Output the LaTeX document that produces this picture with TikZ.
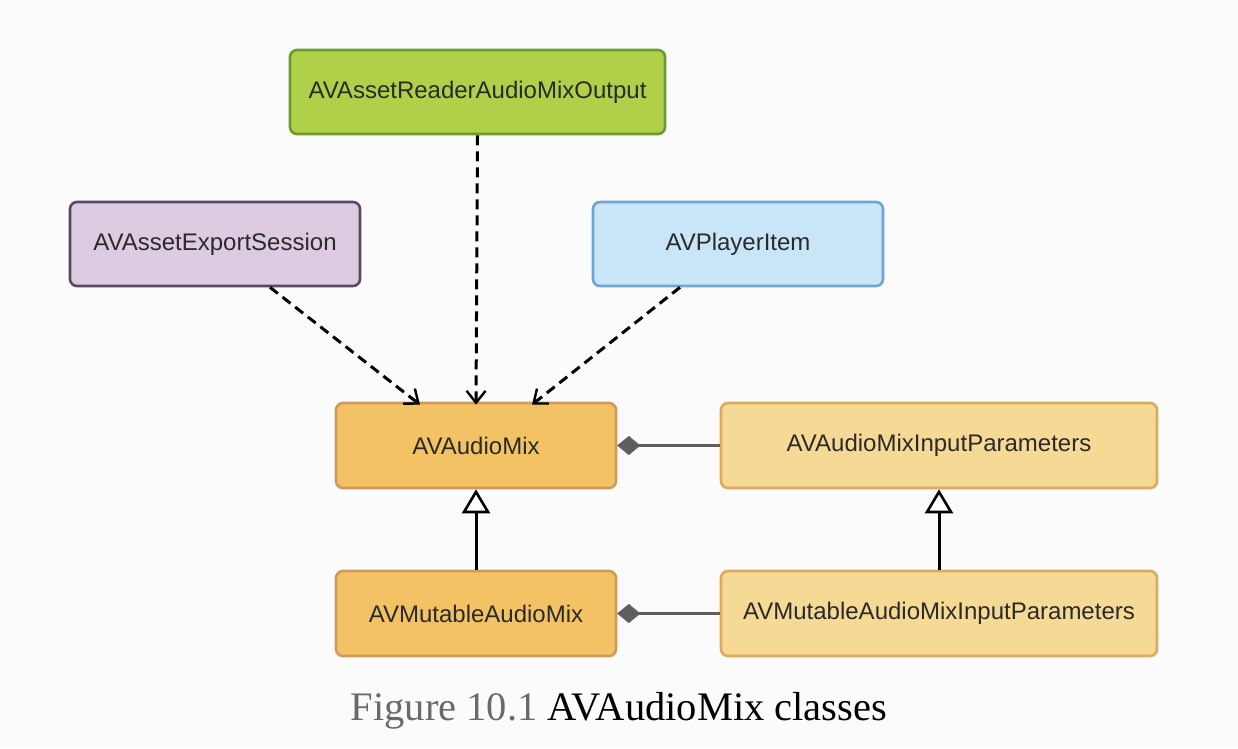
\documentclass[tikz,border=0pt]{standalone}
\usepackage{fontspec}
\setmainfont{Liberation Sans}
\newfontfamily\capfont{Liberation Serif}
\usetikzlibrary{arrows.meta,calc}
\definecolor{bg}{HTML}{FBFBFB}
\definecolor{txt}{HTML}{2A2A2A}
\definecolor{greenfill}{HTML}{B1D04A}
\definecolor{greenline}{HTML}{6C9A2C}
\definecolor{purplefill}{HTML}{DCCBE1}
\definecolor{purpleline}{HTML}{5B4762}
\definecolor{bluefill}{HTML}{C9E5F8}
\definecolor{blueline}{HTML}{6EA5D6}
\definecolor{orangefill}{HTML}{F3C264}
\definecolor{orangeline}{HTML}{CF9A5C}
\definecolor{lightfill}{HTML}{F6D994}
\definecolor{lightline}{HTML}{DAAA62}
\definecolor{diamondgray}{HTML}{5E5E5E}
\definecolor{capgray}{HTML}{6A6A6A}
\tikzset{
  classbox/.style={draw, line width=2.6pt, rounded corners=7pt, text=txt,
    font=\fontsize{24}{28}\selectfont, inner sep=0pt, minimum height=84pt},
  depend/.style={draw=black, line width=3pt, dash pattern=on 10pt off 6pt,
    -{Straight Barb[length=12pt,width=19pt,line width=2.4pt]}},
  inherit/.style={draw=black, line width=3pt,
    -{Triangle[open,length=24pt,width=28pt,line width=2.6pt,fill=white]}},
  compose/.style={draw=diamondgray, line width=3.2pt,
    -{Diamond[length=23pt,width=19pt,fill=diamondgray,line width=0.1pt]}}
}
\begin{document}
\begin{tikzpicture}[x=1pt,y=-1pt]
\useasboundingbox[fill=bg] (0,0) rectangle (1238,748);
\node[classbox, fill=greenfill, draw=greenline, minimum width=375pt] (green) at (477.5,92) {AVAssetReaderAudioMixOutput};
\node[classbox, fill=purplefill, draw=purpleline, minimum width=290pt] (purple) at (215,244) {AVAssetExportSession};
\node[classbox, fill=bluefill, draw=blueline, minimum width=290pt] (blue) at (738,244) {AVPlayerItem};
\node[classbox, fill=orangefill, draw=orangeline, minimum width=280pt, minimum height=85pt] (mix) at (476,445.5) {AVAudioMix};
\node[classbox, fill=lightfill, draw=lightline, minimum width=436pt, minimum height=85pt] (inparams) at (939,445.5) {AVAudioMixInputParameters};
\node[classbox, fill=orangefill, draw=orangeline, minimum width=280pt, minimum height=85pt] (mutmix) at (476,613.5) {AVMutableAudioMix};
\node[classbox, fill=lightfill, draw=lightline, minimum width=436pt, minimum height=85pt] (mutin) at (939,613.5) {AVMutableAudioMixInputParameters};

\draw[depend] ([xshift=55pt]purple.south) -- ([xshift=-56pt,yshift=-3pt]mix.north);
\draw[depend] (green.south) -- ([yshift=-3pt]mix.north);
\draw[depend] ([xshift=-58pt]blue.south) -- ([xshift=56pt,yshift=-3pt]mix.north);

\draw[inherit] (mutmix.north) -- (mix.south);
\draw[inherit] (mutin.north) -- (inparams.south);

\draw[compose] (inparams.west) -- (mix.east);
\draw[compose] (mutin.west) -- (mutmix.east);

\node[anchor=base, font=\capfont\fontsize{40.5}{46}\selectfont, inner sep=0pt] (caption) at (619,720) {\textcolor{capgray}{Figure 10.1} \textcolor{black}{AVAudioMix classes}};
\end{tikzpicture}
\end{document}
